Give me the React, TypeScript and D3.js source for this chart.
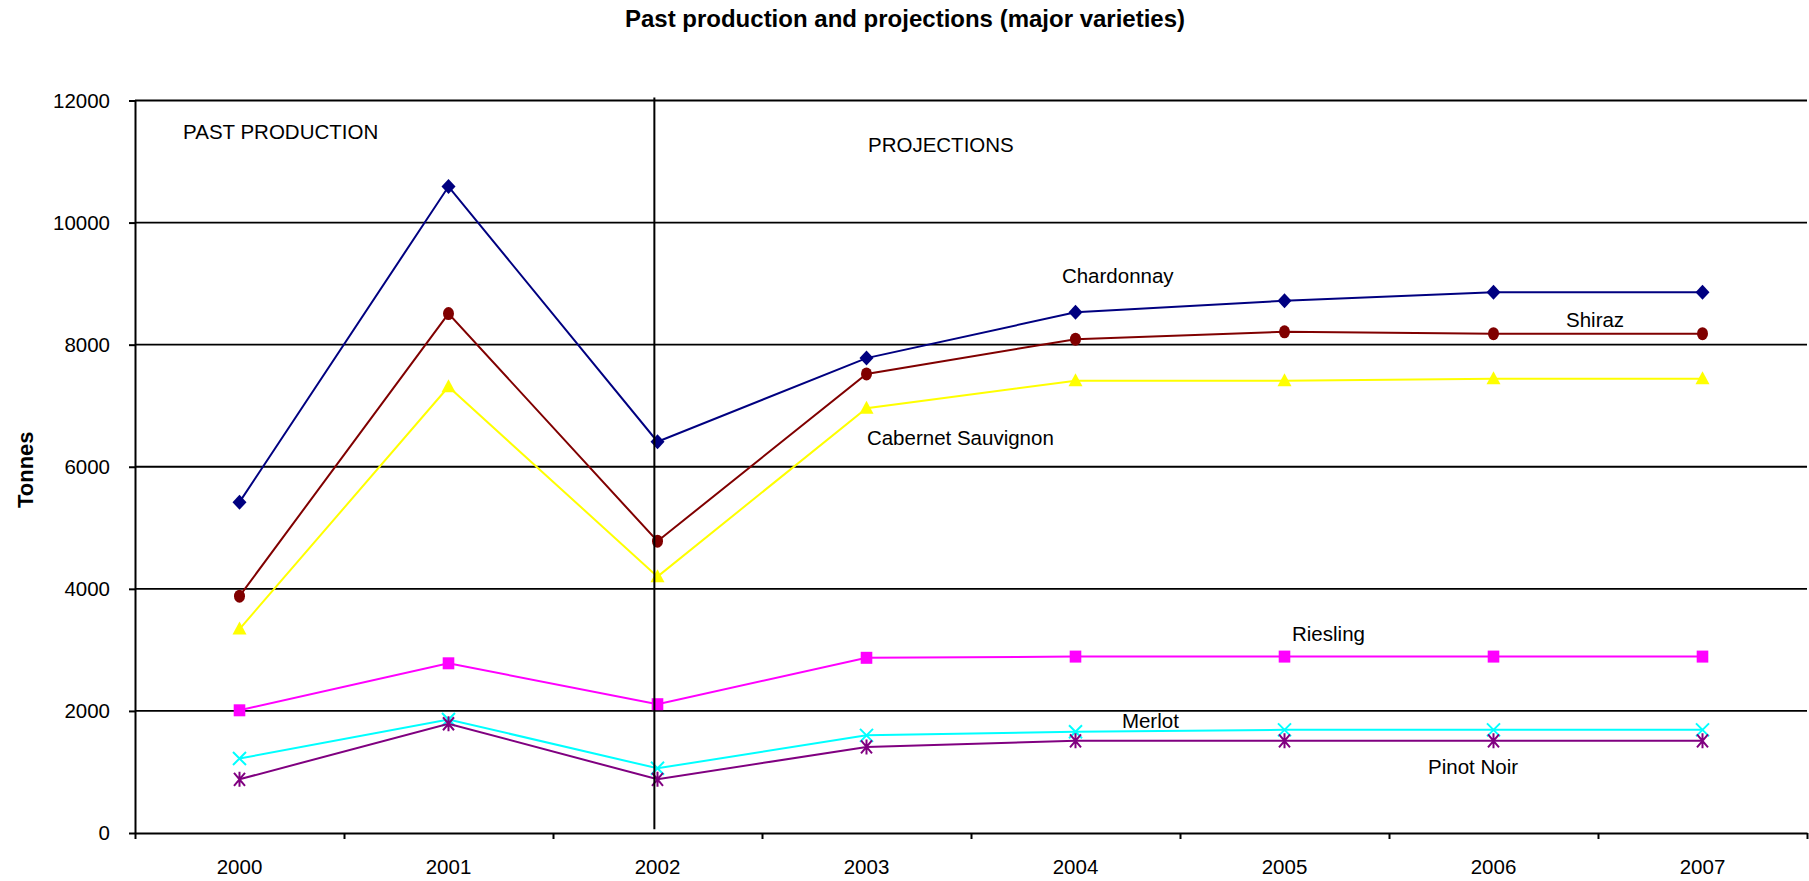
import React, { useEffect, useRef } from 'react';
import * as d3 from 'd3';

// values (tonnes)
const years = ['2000', '2001', '2002', '2003', '2004', '2005', '2006', '2007'];
const chardonnay = [5420, 10590, 6410, 7780, 8530, 8720, 8860, 8860];
const shiraz = [3880, 8510, 4780, 7520, 8090, 8210, 8180, 8180];
const cabernet = [3340, 7310, 4200, 6960, 7410, 7410, 7440, 7440];
const riesling = [2010, 2780, 2110, 2870, 2890, 2890, 2890, 2890];
const merlot = [1220, 1860, 1060, 1600, 1660, 1690, 1690, 1690];
const pinotNoir = [880, 1790, 880, 1410, 1510, 1510, 1510, 1510];
const yTicks = [0, 2000, 4000, 6000, 8000, 10000, 12000];

// free text placed in data units: at = position in categories, value = tonnes
const notes = [
  { text: 'PAST PRODUCTION', at: 0.23, value: 11370 },
  { text: 'PROJECTIONS', at: 3.507, value: 11150 },
  { text: 'Chardonnay', at: 4.435, value: 9010 },
  { text: 'Shiraz', at: 6.847, value: 8290 },
  { text: 'Cabernet Sauvignon', at: 3.502, value: 6356 },
  { text: 'Riesling', at: 5.536, value: 3145 },
  { text: 'Merlot', at: 4.722, value: 1720 },
  { text: 'Pinot Noir', at: 6.187, value: 967 },
];
const dividerAt = 2.485;

const FONT = '"Liberation Sans", Arial, Helvetica, sans-serif';

const App = () => {
  const ref = useRef<SVGSVGElement>(null);

  useEffect(() => {
    document.body.style.margin = '0';
    drawChart();
  }, []); // eslint-disable-line react-hooks/exhaustive-deps

  const drawChart = () => {
    const svg = d3.select(ref.current);
    svg.selectAll('*').remove();

    const left = 135;
    const right = 1807;
    const top = 100.5;
    const bottom = 833;

    const x = d3.scaleBand().domain(years).range([left, right]).padding(0);
    const xPos = d3.scaleLinear().domain([0, years.length]).range([left, right]);
    const y = d3.scaleLinear().domain([0, 12000]).range([bottom, top]);
    const cx = (d: string) => (x(d) as number) + x.bandwidth() / 2;

    const series = [
      { name: 'Chardonnay', values: chardonnay, color: '#000080', marker: 'diamond' },
      { name: 'Shiraz', values: shiraz, color: '#800000', marker: 'circle' },
      { name: 'Cabernet Sauvignon', values: cabernet, color: '#FFFF00', marker: 'triangle' },
      { name: 'Riesling', values: riesling, color: '#FF00FF', marker: 'square' },
      { name: 'Merlot', values: merlot, color: '#00FFFF', marker: 'x' },
      { name: 'Pinot Noir', values: pinotNoir, color: '#800080', marker: 'star' },
    ];

    svg
      .append('rect')
      .attr('width', 1809)
      .attr('height', 881)
      .attr('fill', '#fff');

    // gridlines
    svg
      .append('g')
      .selectAll('line')
      .data(yTicks.filter((t) => t > 0))
      .enter()
      .append('line')
      .attr('x1', left)
      .attr('x2', right)
      .attr('y1', (d) => y(d))
      .attr('y2', (d) => y(d))
      .attr('stroke', '#000')
      .attr('stroke-width', 1.8);

    // y axis
    const yAxis = svg
      .append('g')
      .attr('transform', `translate(${left},0)`)
      .call(
        d3
          .axisLeft(y)
          .tickValues(yTicks)
          .tickFormat(d3.format('d'))
          .tickSize(6)
          .tickSizeOuter(0)
          .tickPadding(19)
      );
    yAxis.select('.domain').attr('stroke', '#000').attr('stroke-width', 2);
    yAxis.selectAll('.tick line').attr('stroke', '#000').attr('stroke-width', 2);
    yAxis
      .selectAll('text')
      .attr('font-family', FONT)
      .attr('font-size', 20.5)
      .attr('fill', '#000');

    // x axis: ticks between categories, labels at centres
    const xTicksG = svg
      .append('g')
      .attr('transform', `translate(0,${bottom})`)
      .call(
        d3
          .axisBottom(xPos)
          .tickValues(d3.range(0, years.length + 1))
          .tickFormat(() => '')
          .tickSize(6)
          .tickSizeOuter(0)
      );
    xTicksG.select('.domain').attr('stroke', '#000').attr('stroke-width', 2);
    xTicksG.selectAll('.tick line').attr('stroke', '#000').attr('stroke-width', 2);

    const xLabels = svg
      .append('g')
      .attr('transform', `translate(0,${bottom})`)
      .call(d3.axisBottom(x).tickSize(0).tickPadding(26));
    xLabels.select('.domain').remove();
    xLabels
      .selectAll('text')
      .attr('font-family', FONT)
      .attr('font-size', 20.5)
      .attr('fill', '#000');

    // lines and markers
    const line = d3
      .line<number>()
      .x((_, i) => cx(years[i]))
      .y((d) => y(d));

    const markerPath: Record<string, string> = {
      diamond: 'M0,-7.5L7,0L0,7.5L-7,0Z',
      triangle: 'M0,-7.5L7,5.5L-7,5.5Z',
      x: 'M-6.5,-6.5L6.5,6.5M-6.5,6.5L6.5,-6.5',
      star: 'M-5.5,-6.5L5.5,6.5M-5.5,6.5L5.5,-6.5M0,-7.5L0,7.5',
    };

    series.forEach((s) => {
      const g = svg.append('g');
      g.append('path')
        .datum(s.values)
        .attr('d', line)
        .attr('fill', 'none')
        .attr('stroke', s.color)
        .attr('stroke-width', 2);

      const pts = g
        .selectAll('.pt')
        .data(s.values)
        .enter()
        .append('g')
        .attr('transform', (d, i) => `translate(${cx(years[i])},${y(d)})`);

      if (s.marker === 'circle') {
        pts.append('ellipse').attr('rx', 5.5).attr('ry', 6.5).attr('fill', s.color);
      } else if (s.marker === 'square') {
        pts
          .append('rect')
          .attr('x', -5.8)
          .attr('y', -6)
          .attr('width', 11.6)
          .attr('height', 12)
          .attr('fill', s.color);
      } else if (s.marker === 'x' || s.marker === 'star') {
        pts
          .append('path')
          .attr('d', markerPath[s.marker])
          .attr('fill', 'none')
          .attr('stroke', s.color)
          .attr('stroke-width', 2);
      } else {
        pts.append('path').attr('d', markerPath[s.marker]).attr('fill', s.color);
      }
    });

    // divider between past and projections
    svg
      .append('line')
      .attr('x1', xPos(dividerAt))
      .attr('x2', xPos(dividerAt))
      .attr('y1', y(12000) - 3)
      .attr('y2', y(60))
      .attr('stroke', '#000')
      .attr('stroke-width', 2);

    // notes
    svg
      .append('g')
      .selectAll('text')
      .data(notes)
      .enter()
      .append('text')
      .attr('x', (d) => xPos(d.at))
      .attr('y', (d) => y(d.value))
      .attr('font-family', FONT)
      .attr('font-size', 20.5)
      .attr('fill', '#000')
      .text((d) => d.text);

    // title and axis title
    svg
      .append('text')
      .attr('x', 905)
      .attr('y', 27)
      .attr('text-anchor', 'middle')
      .attr('font-family', FONT)
      .attr('font-weight', 'bold')
      .attr('font-size', 24)
      .text('Past production and projections (major varieties)');

    svg
      .append('text')
      .attr('transform', `translate(33,${(top + bottom) / 2 + 3}) rotate(-90)`)
      .attr('text-anchor', 'middle')
      .attr('font-family', FONT)
      .attr('font-weight', 'bold')
      .attr('font-size', 22)
      .text('Tonnes');
  };

  return <svg ref={ref} width={1809} height={881} style={{ display: 'block' }}></svg>;
};

export default App;
